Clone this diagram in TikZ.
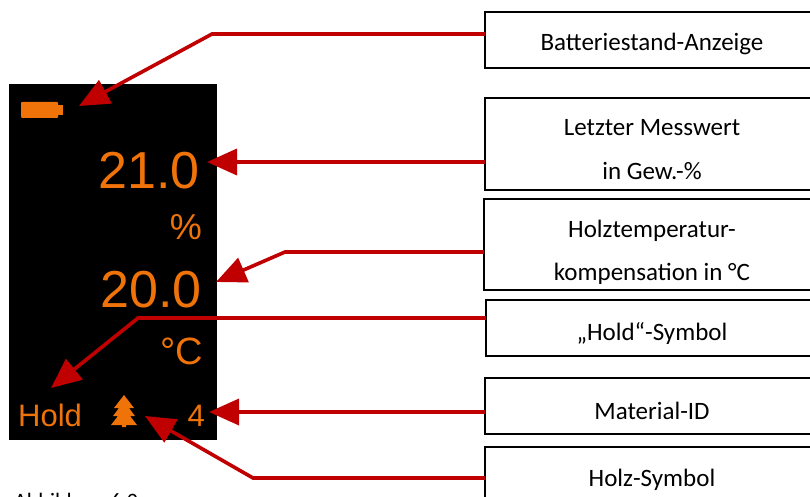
\documentclass[tikz,border=0pt]{standalone}
\usepackage{fontspec}
\setmainfont{Carlito}
\newfontfamily\displayfont{Liberation Sans}
\usetikzlibrary{arrows.meta}
\definecolor{displayorange}{RGB}{240,115,10}
\definecolor{arrowred}{RGB}{192,0,0}
\tikzset{
	labelbox/.style={draw=black,line width=1.5pt,fill=white,inner sep=0pt},
	boxtext/.style={font=\fontsize{25}{25}\selectfont,text=black,inner sep=0pt,anchor=base},
	readout/.style={font=\displayfont,text=displayorange,inner sep=0pt,anchor=base east},
	callout/.style={draw=arrowred,line width=3.6pt,-{Triangle[length=30pt,width=26pt]}}
}
\begin{document}
\begin{tikzpicture}[x=1pt,y=-1pt]
	\useasboundingbox (0,0) rectangle (810,497);
	\clip (0,0) rectangle (810,497);
	% display
	\fill[black] (9,84) rectangle (217,440);
	\fill[displayorange,rounded corners=1pt] (21,102) rectangle (58,118);
	\fill[displayorange] (58,105) rectangle (63,115);
	\node[readout,font=\displayfont\fontsize{52}{52}\selectfont] (wert) at (200,188) {21.0};
	\node[readout,font=\displayfont\fontsize{36}{36}\selectfont] (prozent) at (202,239) {\%};
	\node[readout,font=\displayfont\fontsize{52}{52}\selectfont] (temp) at (202,307) {20.0};
	\node[readout,font=\displayfont\fontsize{38}{38}\selectfont] (grad) at (203,364) {°C};
	\node[readout,anchor=base west,font=\displayfont\fontsize{31}{31}\selectfont] (hold) at (18,426) {Hold};
	\node[readout,font=\displayfont\fontsize{31}{31}\selectfont] (id) at (205,426) {4};
	% tree
	\fill[displayorange] (124,395) -- (134,408) -- (129,408) -- (135,416) -- (130,416) -- (137,425) -- (126,425) -- (126,427) -- (122,427) -- (122,425) -- (111,425) -- (118,416) -- (113,416) -- (119,408) -- (114,408) -- cycle;
	\coordinate (batterie) at (79,106);
	\coordinate (holz) at (145,416);
	\coordinate (holdend) at (51,388);
	% boxes
	\draw[labelbox] (485,12) rectangle (820,68);
	\coordinate (b1) at (485,34);
	\draw[labelbox] (485,98) rectangle (820,190);
	\coordinate (b2) at (485,162);
	\draw[labelbox] (484,199) rectangle (820,290);
	\coordinate (b3) at (484,252);
	\draw[labelbox] (486,300) rectangle (820,356);
	\coordinate (b4) at (486,318);
	\draw[labelbox] (485,378) rectangle (820,434);
	\coordinate (b5) at (485,412);
	\draw[labelbox] (485,447) rectangle (820,520);
	\coordinate (b6) at (485,478);
	% arrows
	\draw[callout] (b1) -- (212,34) -- (batterie);
	\draw[callout] (b2) -- (207,162);
	\draw[callout] (b3) -- (285,252) -- (216,282);
	\draw[callout] (b4) -- (138,318) -- (holdend);
	\draw[callout] (b5) -- (209,412);
	\draw[callout] (b6) -- (253,478) -- (holz);
	% texts
	\node[boxtext] (t1) at (652,51) {Batteriestand-Anzeige};
	\node[boxtext] (t2) at (652,136) {Letzter Messwert};
	\node[boxtext] (t2b) at (652,179) {in Gew.-\%};
	\node[boxtext] (t3) at (652,237) {Holztemperatur-};
	\begin{scope}
		\clip (484,199) rectangle (820,288);
		\node[boxtext] (t3b) at (652,280) {kompensation in °C};
	\end{scope}
	\node[boxtext] (t4) at (652,340) {„Hold“-Symbol};
	\node[boxtext] (t5) at (652,419) {Material-ID};
	\node[boxtext] (t6) at (652,486) {Holz-Symbol};
	\node[inner sep=0pt,anchor=base west,font=\fontsize{22}{22}\selectfont] (caption) at (14,508) {Abbildung 6.2};
\end{tikzpicture}
\end{document}
